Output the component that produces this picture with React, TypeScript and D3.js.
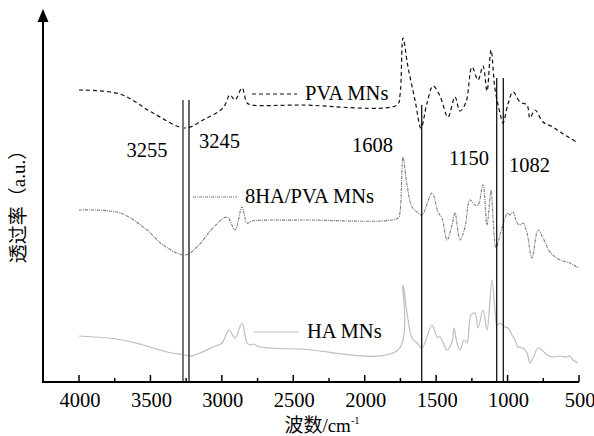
import React from "react";
import * as d3 from "d3";

// ---- data (wavenumber cm-1, transmittance a.u.) ----
const pvaWn = [4000, 3713, 3482, 3258, 3132, 2992, 2943, 2908, 2859, 2824, 2789, 2453, 1774, 1753, 1732, 1697, 1648, 1606, 1564, 1522, 1473, 1417, 1368, 1333, 1291, 1249, 1207, 1172, 1144, 1116, 1088, 1053, 1032, 997, 962, 913, 864, 843, 808, 752, 682, 612, 563, 507];
const pvaVal = [292, 288, 269, 254, 262, 274, 287, 282, 294, 279, 277, 277, 277, 287, 344, 315, 282, 254, 279, 296, 286, 265, 285, 271, 280, 315, 302, 316, 291, 332, 293, 269, 259, 278, 290, 280, 277, 264, 272, 260, 255, 248, 244, 239];

const mixWn = [4000, 3713, 3524, 3412, 3258, 3174, 3062, 2964, 2908, 2859, 2824, 2789, 2453, 1767, 1753, 1732, 1704, 1669, 1634, 1599, 1529, 1487, 1459, 1424, 1389, 1368, 1333, 1298, 1263, 1228, 1207, 1172, 1144, 1116, 1102, 1081, 1053, 1018, 997, 983, 962, 934, 913, 892, 864, 829, 787, 752, 703, 633, 563, 507];
const mixVal = [172, 169, 152, 137, 127, 135, 154, 165, 152, 175, 159, 161, 162, 164, 170, 225, 197, 175, 170, 167, 189, 170, 164, 142, 157, 169, 142, 155, 182, 177, 177, 197, 157, 192, 164, 134, 147, 164, 169, 167, 170, 159, 157, 159, 149, 124, 152, 144, 130, 122, 119, 114];

const haWn = [4000, 3734, 3552, 3384, 3258, 3223, 3153, 3062, 2999, 2950, 2908, 2859, 2824, 2803, 2782, 2733, 2453, 1767, 1732, 1704, 1669, 1634, 1599, 1529, 1494, 1473, 1459, 1424, 1389, 1375, 1354, 1333, 1305, 1284, 1256, 1228, 1207, 1172, 1144, 1109, 1088, 1074, 1053, 1018, 997, 969, 948, 927, 892, 864, 843, 822, 787, 759, 724, 682, 633, 584, 563, 542, 507];
const haVal = [46, 43, 37, 30, 27, 26, 29, 35, 39, 52, 44, 59, 39, 37, 38, 35, 33, 32, 97, 69, 44, 39, 34, 57, 45, 45, 42, 32, 40, 54, 39, 32, 42, 39, 67, 69, 54, 72, 52, 102, 72, 57, 59, 55, 54, 47, 42, 35, 34, 29, 19, 24, 34, 32, 27, 25, 26, 25, 26, 22, 19];

const xTicks = [4000, 3500, 3000, 2500, 2000, 1500, 1000, 500];
const xMinorTicks = [3750, 3250, 2750, 2250, 1750, 1250, 750];

// marker lines: wavenumber, top value
const markerWn = [3272, 3230, 1601, 1076, 1030];
const markerTop = [282, 282, 277, 304, 304];
const markerLabels = ["3255", "3245", "1608", "1150", "1082"];
const markerLabelWn = [3524, 3017, 1946, 1270, 847];
const markerLabelVal = [225, 234, 230, 217, 210];

const seriesNames = ["PVA MNs", "8HA/PVA MNs", "HA MNs"];
const legendWn = [[2789, 2474], [3202, 2894], [2775, 2460]];
const legendVal = [288, 185, 50];

const SERIF = "'Liberation Serif', Tinos, 'DejaVu Serif', serif";
const CJK = "'Liberation Serif', 'Noto Sans CJK SC', serif";

export default function App() {
  const W = 594, H = 436;
  const x = d3.scaleLinear().domain([4000, 500]).range([79, 579]);
  const y = d3.scaleLinear().domain([0, 372]).range([382, 10]);
  const line = d3.line<[number, number]>()
    .x(d => x(d[0]))
    .y(d => y(d[1]))
    .curve(d3.curveCatmullRom.alpha(0.5));

  const series = [
    { wn: pvaWn, val: pvaVal, stroke: "#111", width: 1.2, dash: "4,3" },
    { wn: mixWn, val: mixVal, stroke: "#7a7a7a", width: 1.1, dash: "3,1,1,1" },
    { wn: haWn, val: haVal, stroke: "#bdbdbd", width: 1.2, dash: undefined as string | undefined },
  ];

  const axisY = y(0);
  const axisX = 43;

  return (
    <svg width={W} height={H} style={{ position: "absolute", left: 0, top: 0, background: "#fff" }}>
      <rect x={0} y={0} width={W} height={H} fill="#fff" />
      {series.map((s, i) => (
        <path key={i}
          d={line(s.wn.map((w, j) => [w, s.val[j]] as [number, number])) || ""}
          fill="none" stroke={s.stroke} strokeWidth={s.width} strokeDasharray={s.dash} />
      ))}
      {/* legend labels */}
      {seriesNames.map((n, i) => (
        <g key={n}>
          <line x1={x(legendWn[i][0])} x2={x(legendWn[i][1])} y1={y(legendVal[i])} y2={y(legendVal[i])}
            stroke={series[i].stroke} strokeWidth={series[i].width} strokeDasharray={series[i].dash} />
          <text x={x(legendWn[i][1]) + 8} y={y(legendVal[i]) + 6} fontSize={20.5} fill="#000" style={{ fontFamily: SERIF }}>{n}</text>
        </g>
      ))}
      {/* marker lines */}
      {markerWn.map((w, i) => (
        <line key={i} x1={x(w)} x2={x(w)} y1={y(markerTop[i])} y2={axisY - 1}
          stroke={i === 0 ? "#777" : "#000"} strokeWidth={i === 0 ? 2 : 1.2} />
      ))}
      {markerLabels.map((t, i) => (
        <text key={t} x={x(markerLabelWn[i])} y={y(markerLabelVal[i])} fontSize={20.5} textAnchor="middle" fill="#000" style={{ fontFamily: SERIF }}>{t}</text>
      ))}
      {/* axes */}
      <line x1={axisX} x2={x(500)} y1={axisY} y2={axisY} stroke="#000" strokeWidth={2} />
      <line x1={axisX} x2={axisX} y1={axisY + 1} y2={20} stroke="#000" strokeWidth={2} />
      <path d={`M${axisX},9 L${axisX - 5.5},22 L${axisX + 5.5},22 Z`} fill="#000" />
      {xTicks.map(t => (
        <g key={t}>
          <line x1={x(t)} x2={x(t)} y1={axisY} y2={axisY - 7} stroke="#000" strokeWidth={1.5} />
          <text x={x(t) + 1} y={407} fontSize={20.5} textAnchor="middle" fill="#000" style={{ fontFamily: SERIF }}>{t}</text>
        </g>
      ))}
      {xMinorTicks.map(t => (
        <line key={t} x1={x(t)} x2={x(t)} y1={axisY} y2={axisY - 4} stroke="#000" strokeWidth={1.5} />
      ))}
      <text x={322} y={432} fontSize={19} textAnchor="middle" fill="#000" style={{ fontFamily: CJK }}>波数/cm<tspan dy={-8} fontSize={10.5}>-1</tspan></text>
      <text transform="translate(25,202) rotate(-90)" fontSize={19} textAnchor="middle" fill="#000" style={{ fontFamily: CJK }}>透过率（a.u.）</text>
    </svg>
  );
}
